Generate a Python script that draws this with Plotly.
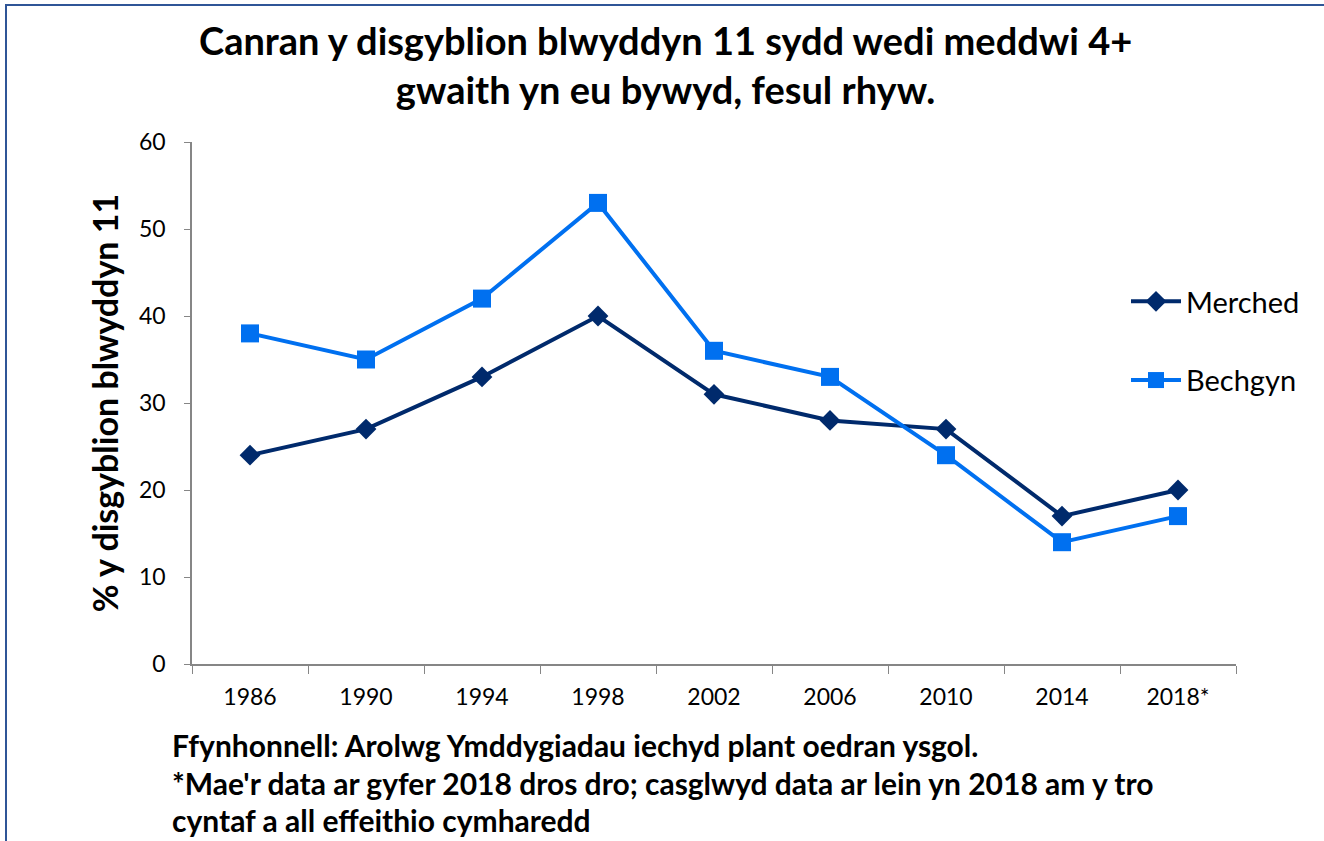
import plotly.graph_objects as go

years = ["1986", "1990", "1994", "1998", "2002", "2006", "2010", "2014", "2018*"]
merched = [24, 27, 33, 40, 31, 28, 27, 17, 20]
bechgyn = [38, 35, 42, 53, 36, 33, 24, 14, 17]
y_ticks = [0, 10, 20, 30, 40, 50, 60]

FONT = "Lato"
W, H = 1324, 841
L, R, T, B = 192, 88, 142, 177
pw, ph = W - L - R, H - T - B

def px(x):
    return (x - L) / pw

def py(y):
    return (H - B - y) / ph

fig = go.Figure()
fig.add_trace(go.Scatter(
    x=years, y=merched, name="Merched", mode="lines+markers",
    line=dict(color="#002A6C", width=4),
    marker=dict(symbol="diamond", size=16, color="#002A6C"),
    legendgroup="a",
))
fig.add_trace(go.Scatter(
    x=years, y=bechgyn, name="Bechgyn", mode="lines+markers",
    line=dict(color="#0070F0", width=4),
    marker=dict(symbol="square", size=18, color="#0070F0"),
    legendgroup="b",
))

fig.update_layout(
    width=W, height=H,
    margin=dict(l=L, r=R, t=T, b=B),
    paper_bgcolor="white", plot_bgcolor="white",
    font=dict(family=FONT, color="black", size=22),
    showlegend=True,
    legend=dict(x=px(1126), y=py(276), xanchor="left", yanchor="top",
                font=dict(size=29, family=FONT), tracegroupgap=38,
                traceorder="grouped", bgcolor="rgba(0,0,0,0)", itemwidth=50),
    xaxis=dict(type="category", range=[-0.5, 8.5], showline=True, linecolor="#868686",
               linewidth=1.5, ticks="outside", ticklen=8, tickcolor="#868686",
               tickson="boundaries", showgrid=False, zeroline=False,
               ticklabelstandoff=12,
               tickfont=dict(size=23, family=FONT)),
    yaxis=dict(range=[0, 60], tickvals=y_ticks, showline=True, linecolor="#868686",
               linewidth=1.5, ticks="outside", ticklen=6, tickcolor="#868686",
               showgrid=False, zeroline=False, tickfont=dict(size=23, family=FONT),
               ticklabelstandoff=14,
               title=dict(text="<b>% y disgyblion blwyddyn 11</b>", font=dict(size=34, family=FONT),
                          standoff=10)),
)

fig.add_annotation(xref="paper", yref="paper", x=px(665), y=py(64), xanchor="center", yanchor="middle",
                   text="<b>Canran y disgyblion blwyddyn 11 sydd wedi meddwi 4+<br>gwaith yn eu bywyd, fesul rhyw.</b>",
                   showarrow=False, font=dict(size=38, family=FONT), align="center")

notes = ["Ffynhonnell: Arolwg Ymddygiadau iechyd plant oedran ysgol.",
         "*Mae'r data ar gyfer 2018 dros dro; casglwyd data ar lein yn 2018 am y tro",
         "cyntaf a all effeithio cymharedd"]
for i, (t, yb) in enumerate(zip(notes, [745, 783, 820])):
    fig.add_annotation(xref="paper", yref="paper", x=px(170), y=py(yb), xanchor="left", yanchor="middle",
                       text="<b>" + t + "</b>", showarrow=False, font=dict(size=30, family=FONT), align="left")

fig.add_shape(type="rect", xref="paper", yref="paper", x0=px(6), y0=py(860), x1=px(1340), y1=py(5),
              line=dict(color="#2F5597", width=2), layer="below")

fig.write_html("out.html", config={"displayModeBar": False},
               post_script="document.body.style.margin='0';document.body.style.overflow='hidden';")
